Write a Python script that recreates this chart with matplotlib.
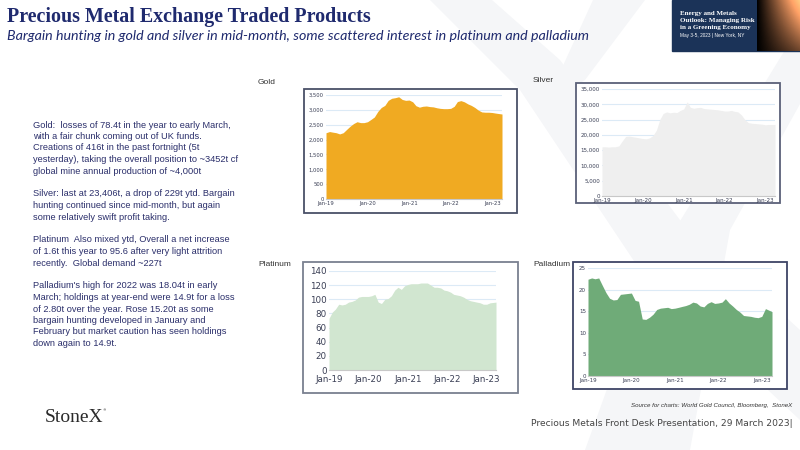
import matplotlib
matplotlib.use('Agg')
import matplotlib.pyplot as plt
import matplotlib.dates as mdates
from matplotlib.patches import Rectangle, Polygon
from matplotlib.ticker import FuncFormatter
import numpy as np
import pandas as pd

# monthly points Jan-19 .. Mar-23 (last point = late March)
dates = pd.date_range('2019-01-01', '2023-02-01', freq='MS').append(pd.DatetimeIndex(['2023-03-28']))

gold = [2230, 2270, 2250, 2230, 2190, 2230, 2340, 2450, 2540, 2600, 2570, 2570,
        2600, 2680, 2760, 2950, 3080, 3150, 3320, 3390, 3410, 3440, 3350, 3320,
        3330, 3270, 3140, 3090, 3120, 3130, 3110, 3100, 3070, 3050, 3040, 3040,
        3050, 3120, 3280, 3310, 3270, 3200, 3150, 3080, 2990, 2930, 2920, 2920,
        2910, 2890, 2860]
silver = [16100, 16100, 16000, 16100, 16100, 16400, 18000, 19500, 19600, 19400, 19200, 19000,
          18800, 18700, 19000, 19800, 21500, 25000, 27000, 27500, 27200, 27400, 27300, 28000,
          28500, 30800, 29000, 28700, 28900, 29000, 28600, 28500, 28400, 28300, 28200, 28000,
          27800, 27800, 28000, 27700, 27500, 26500, 25000, 24000, 23800, 23700, 23600, 23500,
          23300, 23400, 23400]
platinum = [73, 82, 86, 93, 92, 93, 96, 97, 99, 103, 104, 104,
            104, 105, 107, 96, 94, 100, 101, 105, 113, 117, 114, 119,
            121, 122, 122, 122, 123, 123, 123, 120, 117, 117, 116, 113,
            112, 110, 107, 106, 105, 103, 100, 98, 97, 96, 95, 93,
            93, 95, 96]
palladium = [22.4, 22.7, 22.5, 22.7, 21.0, 19.3, 18.0, 17.6, 17.7, 18.9, 19.0, 19.1,
             19.2, 17.5, 17.3, 13.2, 13.1, 13.6, 14.3, 15.4, 15.7, 15.8, 15.9, 15.6,
             15.7, 15.9, 16.1, 16.3, 16.6, 17.1, 16.9, 16.2, 16.0, 16.8, 17.2, 16.8,
             16.9, 17.1, 17.9, 16.9, 16.2, 15.4, 14.8, 14.0, 13.9, 13.8, 13.6, 13.5,
             13.8, 15.6, 14.9]

gold_ticks = [0, 500, 1000, 1500, 2000, 2500, 3000, 3500]
silver_ticks = [0, 5000, 10000, 15000, 20000, 25000, 30000, 35000]
platinum_ticks = [0, 20, 40, 60, 80, 100, 120, 140]
palladium_ticks = [0, 5, 10, 15, 20, 25]

NAVY = '#1f2a6e'
W, H = 800, 450


def fx(x):
    return x / W


def fy(y):
    return 1 - y / H


def fpoly(pts, color, z):
    fig.patches.append(Polygon([(fx(a), fy(b)) for a, b in pts], closed=True,
                               transform=fig.transFigure, color=color, zorder=z, linewidth=0))


fig = plt.figure(figsize=(8, 4.5), dpi=100)
fig.patch.set_facecolor('white')

# faint StoneX "X" watermark
wm = '#f5f6f8'
fpoly([(430, 0), (492, 0), (560, 60), (680, 220), (800, 330), (800, 420), (640, 270), (520, 90)], wm, -5)
fpoly([(593, 0), (645, 0), (585, 80), (545, 105)], wm, -5)
fpoly([(785, 50), (830, 50), (730, 230), (690, 450), (585, 450), (650, 270)], wm, -5)

# title block
fig.text(fx(7), fy(17), 'Precious Metal Exchange Traded Products', family='Liberation Serif',
         weight='bold', fontsize=14.4, color=NAVY, va='center', ha='left')
fig.text(fx(7), fy(36), 'Bargain hunting in gold and silver in mid-month, some scattered interest in platinum and palladium',
         family='Lato', style='italic', fontsize=10.3, color=NAVY, va='center', ha='left')

# event banner top right
fig.patches.append(Rectangle((fx(672), fy(51)), fx(128), 51 / H, transform=fig.transFigure,
                             color='#1b3358', zorder=1))
bax = fig.add_axes([fx(757), fy(51), fx(43), 51 / H])
bax.set_zorder(2)
grad = np.linspace(0, 1, 43)[None, :] * np.linspace(1, 0.35, 51)[:, None]
bax.imshow(grad, cmap='copper', aspect='auto', vmin=0, vmax=1)
bax.axis('off')
for i, line in enumerate(['Energy and Metals', 'Outlook: Managing Risk', 'in a Greening Economy']):
    fig.text(fx(680), fy(13 + i * 7.2), line, family='Liberation Serif', weight='bold', fontsize=5.0,
             color='white', va='center', ha='left', zorder=3)
fig.text(fx(680), fy(35), 'May 3-5, 2023 | New York, NY', family='Liberation Sans', fontsize=3.4,
         color='white', va='center', ha='left', zorder=3)

# commentary text
paras = [
    ["Gold:  losses of 78.4t in the year to early March,",
     "with a fair chunk coming out of UK funds.",
     "Creations of 416t in the past fortnight (5t",
     "yesterday), taking the overall position to ~3452t cf",
     "global mine annual production of ~4,000t"],
    ["Silver: last at 23,406t, a drop of 229t ytd. Bargain",
     "hunting continued since mid-month, but again",
     "some relatively swift profit taking."],
    ["Platinum  Also mixed ytd, Overall a net increase",
     "of 1.6t this year to 95.6 after very light attrition",
     "recently.  Global demand ~227t"],
    ["Palladium's high for 2022 was 18.04t in early",
     "March; holdings at year-end were 14.9t for a loss",
     "of 2.80t over the year. Rose 15.20t as some",
     "bargain hunting developed in January and",
     "February but market caution has seen holdings",
     "down again to 14.9t."],
]
y = 125
for p in paras:
    for line in p:
        fig.text(fx(33), fy(y), line, family='Liberation Sans', fontsize=6.7, color='#2b2f6b',
                 va='center', ha='left')
        y += 11.5
    y += 11.5


def make_chart(name, vals, ticks, color, frame, plot, label_xy, tick_fs, frame_col, fmt, xpad):
    # white framed box
    x0, y0, x1, y1 = frame
    fig.patches.append(Rectangle((fx(x0), fy(y1)), fx(x1 - x0), (y1 - y0) / H,
                                 transform=fig.transFigure, facecolor='white',
                                 edgecolor=frame_col, linewidth=1.3, zorder=-1))
    px0, py0, px1, py1 = plot
    ax = fig.add_axes([fx(px0), fy(py1), fx(px1 - px0), (py1 - py0) / H])
    ax.set_zorder(2)
    ax.set_facecolor('none')
    ax.fill_between(dates, vals, 0, color=color, linewidth=0, zorder=2)
    ax.set_xlim(dates[0], dates[-1])
    ax.set_ylim(0, ticks[-1])
    ax.set_yticks(ticks)
    ax.yaxis.set_major_formatter(FuncFormatter(fmt))
    ax.yaxis.grid(True, color='#dceaf6', linewidth=0.8)
    ax.set_axisbelow(True)
    ax.xaxis.set_major_locator(mdates.YearLocator())
    ax.xaxis.set_major_formatter(mdates.DateFormatter('%b-%y'))
    for s in ['top', 'right', 'left']:
        ax.spines[s].set_visible(False)
    ax.spines['bottom'].set_color('#c8c8c8')
    ax.spines['bottom'].set_linewidth(0.8)
    ax.tick_params(axis='both', length=0, labelsize=tick_fs, colors='#3a3f55', pad=1.5)
    ax.tick_params(axis='x', pad=xpad)
    fig.text(fx(label_xy[0]), fy(label_xy[1]), name, family='Liberation Sans', fontsize=6.0,
             color='#333333', va='center', ha='left')
    return ax


comma = lambda v, p: f'{int(v):,}'
plain = lambda v, p: f'{int(v)}'

make_chart('Gold', gold, gold_ticks, '#f0aa22', (304, 89, 517, 213), (326, 95, 502, 199),
           (258, 82), 3.8, '#4a5068', comma, 1.5)
make_chart('Silver', silver, silver_ticks, '#efefef', (576, 83, 780, 203), (602, 89, 775, 196),
           (533, 81), 4.0, '#5a6078', comma, 1.5)
make_chart('Platinum', platinum, platinum_ticks, '#d1e6d0', (303, 262, 518, 393), (329, 271, 496, 370),
           (258, 264), 6.3, '#7a8090', plain, 3.5)
make_chart('Palladium', palladium, palladium_ticks, '#6fab78', (573, 262, 787, 389), (588, 268, 772, 376),
           (533, 265), 4.0, '#3e4466', plain, 1.5)

# footer
fig.text(fx(45), fy(418), 'StoneX', family='Liberation Serif', fontsize=14, color='#2a2a2a',
         va='center', ha='left')
fig.text(fx(103), fy(410), '®', family='DejaVu Sans', fontsize=2.5, color='#2a2a2a', va='center')
fig.text(fx(792), fy(405), 'Source for charts: World Gold Council, Bloomberg,  StoneX',
         family='Liberation Sans', style='italic', fontsize=4.4, color='#333333', va='center', ha='right')
fig.text(fx(531), fy(423), 'Precious Metals Front Desk Presentation, 29 March 2023|',
         family=['Liberation Sans Narrow', 'DejaVu Sans'], fontsize=6.6, color='#444444',
         va='center', ha='left')

fig.savefig('out.png', dpi=100)
